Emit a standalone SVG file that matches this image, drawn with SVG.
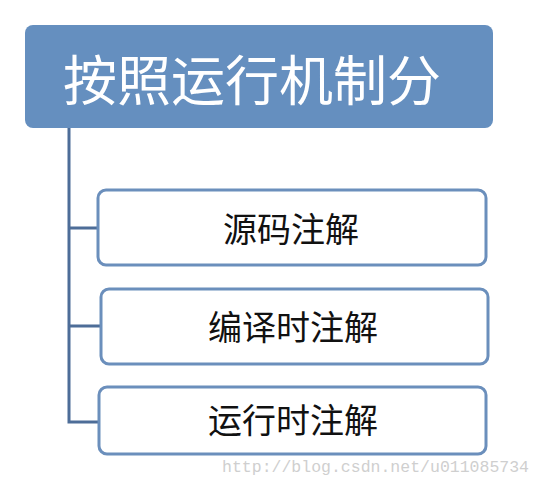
<svg xmlns="http://www.w3.org/2000/svg" width="541" height="488" viewBox="0 0 541 488">
<style>
.child rect{fill:#fff;stroke:#6b8fbc;stroke-width:3}
.child text{font-family:"Liberation Sans","Noto Sans CJK SC",sans-serif;font-size:34px;fill:#111;text-anchor:middle}
.conn{stroke:#4d6d98;stroke-width:3;fill:none}
</style>
<rect width="541" height="488" fill="#fff"/>
<g id="root">
<rect x="25" y="25" width="468" height="103" rx="8" fill="#658fbf"/>
<text x="252" y="101" font-family="Liberation Sans,'Noto Sans CJK SC',sans-serif" font-size="54" fill="#fff" text-anchor="middle">按照运行机制分</text>
</g>
<g id="connectors">
<path class="conn" d="M69,128 V422 H99 M69,228 H98 M69,326 H101"/>
</g>
<g id="n1" class="child">
<rect x="98" y="190" width="388" height="75" rx="8"/>
<text x="291" y="242">源码注解</text>
</g>
<g id="n2" class="child">
<rect x="101" y="289" width="387" height="75" rx="8"/>
<text x="293" y="340">编译时注解</text>
</g>
<g id="n3" class="child">
<rect x="99" y="387" width="387" height="67" rx="8"/>
<text x="293" y="433">运行时注解</text>
</g>
<text x="529" y="472" font-family="Liberation Mono,monospace" font-size="16.5" fill="#cfcfcf" text-anchor="end">http://blog.csdn.net/u011085734</text>
</svg>
